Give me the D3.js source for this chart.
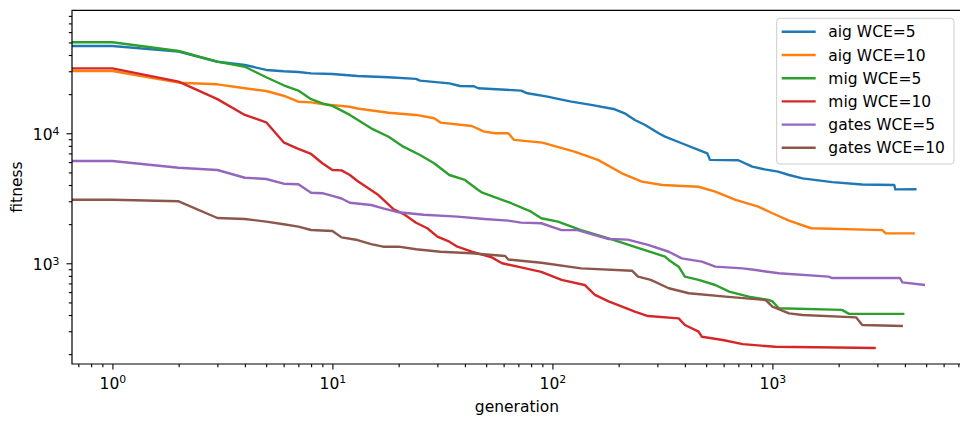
<!DOCTYPE html>
<html>
<head>
<meta charset="utf-8">
<script src="https://cdnjs.cloudflare.com/ajax/libs/d3/7.8.5/d3.min.js"></script>
<style>
body { margin: 0; background: #fff; }
text { font-family: "DejaVu Sans", sans-serif; }
</style>
</head>
<body>
<div id="chart"></div>
<script>
// data: [generation, fitness], generation 0 sits on the left edge
var labels = ["aig WCE=5", "aig WCE=10", "mig WCE=5", "mig WCE=10", "gates WCE=5", "gates WCE=10"];
var colors = ["#1f77b4", "#ff7f0e", "#2ca02c", "#d62728", "#9467bd", "#8c564b"];

var aig5 = [[0,46960],[1,46960],[2,42500],[3,35500],[4,33500],[5,30700],[6,30000],[7,29600],[8,28900],[10,28600],
  [13,27600],[18,27000],[24,26200],[25,25400],[34,24200],[38,23100],[44,23000],[46,22200],[72,21300],[77,20300],
  [95,19130],[106,18370],[122,17500],[150,16520],[192,15300],[213,14230],[237,12660],[264,11580],[304,10000],[325,9420],
  [387,8380],[461,7440],[506,7010],[520,6240],[700,6200],[810,5540],[923,5280],[1060,5070],[1190,4775],[1370,4500],
  [1870,4210],[2560,4040],[3580,4000],[3620,3700],[4520,3710]];
var aig10 = [[0,30130],[1,30130],[2,24500],[3,23800],[4,22200],[5,21150],[6,19450],[7,17500],[8,17300],[9,16750],
  [12,16000],[13,15500],[18,14400],[24,13840],[29,13040],[31,12080],[43,11370],[49,10290],[55,10000],[63,10000],
  [67,8890],[90,8470],[126,7220],[161,6240],[207,4920],[255,4250],[316,4000],[461,3880],[550,3560],[680,3070],
  [863,2725],[1000,2425],[1190,2130],[1500,1860],[3160,1800],[3270,1700],[4440,1700]];
var mig5 = [[0,50100],[1,50100],[2,42960],[3,35560],[4,32500],[5,26970],[6,23400],[7,21300],[8,18280],[9,16950],
  [10,16240],[12,13840],[15,10920],[18,9410],[21,7890],[25,6810],[29,5880],[34,4775],[40,4375],[46,3660],[48,3490],
  [65,2897],[80,2493],[89,2220],[106,2090],[135,1800],[180,1555],[325,1125],[338,1061],[375,942],[400,789],
  [462,745],[550,681],[636,605],[780,554],[960,522],[1000,509],[1070,451],[2070,438],[2230,408],[3980,408]];
var mig10 = [[0,31560],[1,31560],[2,24940],[3,18300],[4,13840],[5,12150],[6,8525],[7,7576],[8,6930],[9,5880],
  [10,5225],[11,5180],[12,4775],[13,4300],[16,3400],[19,2600],[21,2400],[24,2050],[27,1860],[30,1603],[34,1467],
  [37,1342],[43,1227],[53,1111],[59,1000],[72,931],[89,859],[110,745],[140,681],[156,571],[180,509],[237,424],
  [272,393],[375,377],[400,335],[462,298],[478,272],[595,257],[733,239],[1030,228],[2950,223]];
var gates5 = [[0,6120],[1,6120],[2,5430],[3,5220],[4,4550],[5,4450],[6,4095],[7,4050],[8,3490],[9,3460],[10,3300],
  [11,3150],[12,2924],[15,2808],[17,2647],[20,2467],[26,2360],[37,2287],[49,2193],[63,2128],[72,2054],[89,2032],
  [110,1800],[130,1800],[180,1538],[220,1520],[272,1385],[338,1227],[387,1092],[478,1030],[550,942],[733,914],
  [839,887],[1070,838],[1800,789],[1870,770],[3800,770],[3900,713],[4940,681]];
var gates10 = [[0,3085],[1,3085],[2,2997],[3,2230],[4,2190],[5,2090],[6,1995],[7,1915],[8,1804],[10,1772],[11,1582],
  [13,1509],[15,1406],[17,1342],[20,1342],[24,1281],[31,1227],[43,1193],[47,1180],[61,1137],[63,1069],[89,1010],
  [135,914],[230,877],[245,789],[280,745],[338,643],[417,588],[612,554],[930,522],[1000,465],[1190,412],[1370,400],
  [2400,384],[2560,335],[3920,329]];
var series = [aig5, aig10, mig5, mig10, gates5, gates10];

var xMajors = [1, 10, 100, 1000];
var yMajors = [1000, 10000];

var w = 960, h = 421;
// plot box (right edge falls just outside the picture)
var pLeft = 72, pRight = 963, pTop = 10.3, pBottom = 364;

var svg = d3.select('#chart')
  .append("svg")
  .attr("width", w)
  .attr("height", h);

var x = d3.scaleLog().domain([0.655, 7350]).range([pLeft, pRight]);
var y = d3.scaleLog().domain([168, 88300]).range([pBottom, pTop]);

// minor ticks 2..9 per decade
function minors(lo, hi) {
  var out = [];
  for (var e = Math.floor(Math.log10(lo)); e <= Math.ceil(Math.log10(hi)); e++) {
    for (var k = 2; k <= 9; k++) {
      var v = k * Math.pow(10, e);
      if (v >= lo && v <= hi) out.push(v);
    }
  }
  return out;
}

function sup(sel) {
  sel.each(function(d) {
    var t = d3.select(this).text("");
    t.append("tspan").text("10");
    t.append("tspan").attr("dy", "-0.48em").attr("font-size", "0.7em").text(Math.round(Math.log10(d)));
  });
}

// axes
var xAxis = svg.append("g").attr("transform", "translate(0," + pBottom + ")")
  .call(d3.axisBottom(x).tickValues(xMajors).tickSize(5.5).tickPadding(4));
svg.append("g").attr("transform", "translate(0," + pBottom + ")")
  .call(d3.axisBottom(x).tickValues(minors(0.655, 7350)).tickSize(3.2).tickFormat(""));
var yAxis = svg.append("g").attr("transform", "translate(" + pLeft + ",0)")
  .call(d3.axisLeft(y).tickValues(yMajors).tickSize(5.5).tickPadding(7));
svg.append("g").attr("transform", "translate(" + pLeft + ",0)")
  .call(d3.axisLeft(y).tickValues(minors(168, 88300)).tickSize(3.2).tickFormat(""));

svg.selectAll(".domain").remove();
svg.selectAll(".tick line").attr("stroke", "#000").attr("stroke-width", 1.1);
xAxis.attr("font-size", 15.5);
yAxis.attr("font-size", 15.5);
xAxis.selectAll("text").attr("fill", "#000").attr("dy", null).attr("y", 24.5).call(sup);
yAxis.selectAll("text").attr("fill", "#000").attr("dy", null).attr("y", 6.5).call(sup);

// lines
svg.append("clipPath").attr("id", "clip").append("rect")
  .attr("x", pLeft).attr("y", pTop).attr("width", pRight - pLeft).attr("height", pBottom - pTop);

var line = d3.line()
  .x(function(d) { return x(d[0] === 0 ? x.domain()[0] : d[0]); })
  .y(function(d) { return y(d[1]); });

svg.append("g").attr("clip-path", "url(#clip)")
  .selectAll("path")
  .data(series)
  .enter().append("path")
  .attr("d", line)
  .attr("fill", "none")
  .attr("stroke", function(d, i) { return colors[i]; })
  .attr("stroke-width", 2.4)
  .attr("stroke-linejoin", "round");

// spines
svg.append("path")
  .attr("d", "M" + pRight + "," + pTop + "H" + pLeft + "V" + pBottom + "H" + pRight)
  .attr("fill", "none").attr("stroke", "#000").attr("stroke-width", 1.2);

// axis labels
svg.append("text").text("generation")
  .attr("x", 517).attr("y", 411.5).attr("text-anchor", "middle").attr("font-size", 15.5);
svg.append("text").text("fitness")
  .attr("transform", "translate(22,187) rotate(-90)").attr("text-anchor", "middle").attr("font-size", 15.5);

// legend
var legend = svg.append("g");
legend.append("rect")
  .attr("x", 776.7).attr("y", 18.3).attr("width", 177.3).attr("height", 145.7).attr("rx", 3)
  .attr("fill", "#fff").attr("fill-opacity", 0.8).attr("stroke", "#ccc").attr("stroke-width", 1);
var rows = legend.selectAll(".row").data(labels).enter().append("g")
  .attr("transform", function(d, i) { return "translate(0," + (31.8 + i * 23.2) + ")"; });
rows.append("line").attr("x1", 781.7).attr("x2", 815.7)
  .attr("stroke", function(d, i) { return colors[i]; }).attr("stroke-width", 2.4);
rows.append("text").text(function(d) { return d; })
  .attr("x", 828.3).attr("y", 5.6).attr("font-size", 15.5);
</script>
</body>
</html>
